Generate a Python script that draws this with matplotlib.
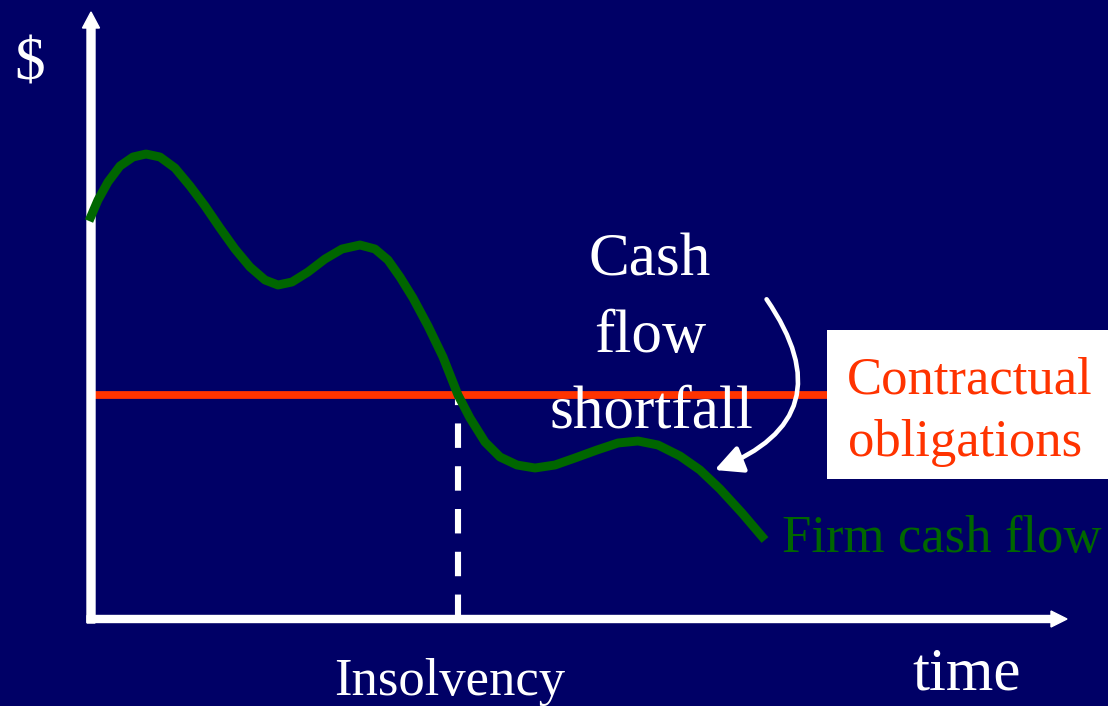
import matplotlib
matplotlib.use("Agg")
import matplotlib.pyplot as plt
from matplotlib.patches import FancyArrow, FancyArrowPatch, Rectangle

# ---- data (time units, $ units; origin at axes corner) ----
time_vals = [-2, 7, 17, 29, 42, 55, 69, 84, 99, 114, 129, 144, 159, 174, 187, 201,
             217, 234, 251, 269, 284, 297, 309, 322, 337, 352, 367, 379, 394, 409,
             426, 444, 464, 484, 506, 527, 547, 567, 589, 609, 629, 651, 674]
cash_vals = [398, 419, 437, 453, 462, 465, 462, 451, 433, 413, 391, 370, 352, 339,
             334, 337, 347, 360, 370, 374, 370, 359, 342, 321, 293, 262, 224, 201,
             177, 162, 154, 151, 154, 161, 169, 176, 178, 174, 163, 149, 130, 106, 79]
obligation_level = 224
insolvency_time = 367

BG = "#000066"
GREEN = "#006600"
RED = "#FF3300"
FONT = "Liberation Serif"

fig = plt.figure(figsize=(11.08, 7.06), dpi=100, facecolor=BG)
ax = fig.add_axes([0, 0, 1, 1])
ax.set_facecolor(BG)
ax.set_xlim(-91, 1017)
ax.set_ylim(-87, 619)
ax.axis("off")

def P(px, py):
    return px - 91, 619 - py

# dashed insolvency line (drawn from the x axis upward)
ax.plot([insolvency_time, insolvency_time], [0, obligation_level], color="white",
        lw=4.4, dashes=(4.0, 3.0), solid_capstyle="butt", zorder=2)

# contractual obligations line
ax.plot([0, 1017], [obligation_level, obligation_level], color=RED, lw=5.6,
        solid_capstyle="butt", zorder=3)

# firm cash flow
ax.plot(time_vals, cash_vals, color=GREEN, lw=6.4, solid_capstyle="butt",
        solid_joinstyle="round", zorder=5)

# axes arrows
x0, y0 = P(91, 623)
ax.add_patch(FancyArrow(x0, y0, 0, (623 - 12), width=8, head_width=17,
                        head_length=16, length_includes_head=True,
                        color="white", zorder=4))
x0, y0 = P(87, 619)
ax.add_patch(FancyArrow(x0, y0, (1067 - 87), 0, width=7, head_width=16,
                        head_length=16, length_includes_head=True,
                        color="white", zorder=4))

# white box for label
bx, by = P(827, 479)
ax.add_patch(Rectangle((bx, by), 1108 - 827, 479 - 330, facecolor="white",
                       edgecolor="none", zorder=6))

# curved arrow
arr = FancyArrowPatch(P(765, 297), P(712, 471), connectionstyle="arc3,rad=-0.64",
                      arrowstyle="-|>,head_length=1.2,head_width=0.6",
                      mutation_scale=14, color="white", lw=3.3, zorder=7)
ax.add_patch(arr)

# texts
def txt(px, py, s, size, color="white", ha="center"):
    x, y = P(px, py)
    ax.text(x, y, s, fontsize=size, color=color, ha=ha, va="baseline",
            family=FONT, zorder=8)

txt(650, 275, "Cash", 44)
txt(650, 352, "flow", 44)
txt(651, 428, "shortfall", 44)
txt(970, 393, "Contractual", 38, color=RED)
txt(965, 456, "obligations", 38, color=RED)
txt(782, 552, "Firm cash flow", 38, color=GREEN, ha="left")
txt(450, 695, "Insolvency", 38)
txt(967, 690, "time", 44)
txt(30, 80, "$", 44)

fig.savefig("out.png", dpi=100, facecolor=BG)
